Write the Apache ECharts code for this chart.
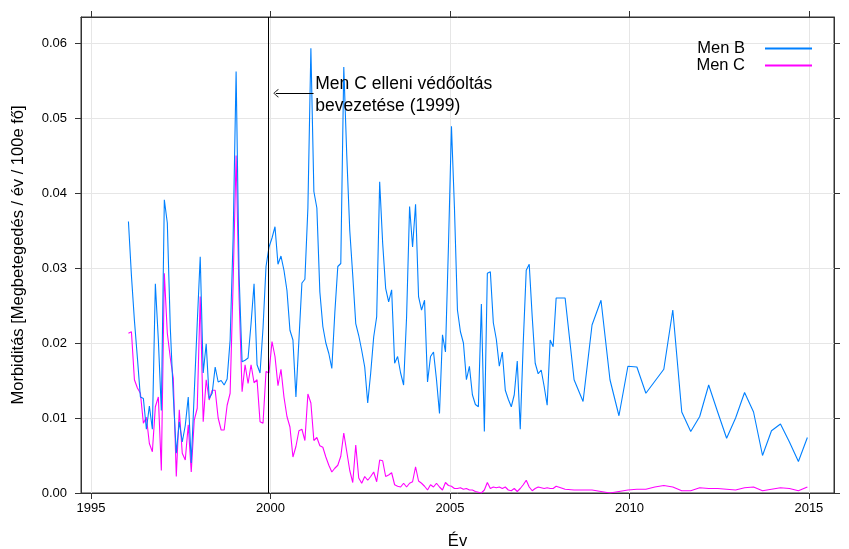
<!DOCTYPE html>
<html>
<head>
<meta charset="utf-8">
<script src="https://cdn.jsdelivr.net/npm/echarts@6/dist/echarts.min.js"></script>
<style>
  html, body { margin: 0; padding: 0; background: #fff; }
  #chart { width: 849px; height: 549px; }
</style>
</head>
<body>
<div id="chart"></div>
<script>
// monthly values, Jan 1996 .. Dec 2007 (one row per year)
const menBMonthly = [
  0.0362, 0.029, 0.023, 0.018, 0.0128, 0.0126, 0.0085, 0.0116, 0.0085, 0.0279, 0.0204, 0.011,
  0.0391, 0.036, 0.022, 0.013, 0.0053, 0.0095, 0.0068, 0.009, 0.0128, 0.004, 0.0133, 0.0226,
  0.0315, 0.016, 0.0199, 0.0126, 0.0133, 0.0168, 0.0148, 0.015, 0.0144, 0.0152, 0.0204, 0.034,
  0.0562, 0.029, 0.0175, 0.0177, 0.018, 0.0226, 0.0279, 0.0171, 0.016, 0.022, 0.0302, 0.0328,
  0.034, 0.0355, 0.0305, 0.0316, 0.0297, 0.027, 0.0217, 0.0204, 0.0128, 0.0204, 0.028, 0.0285,
  0.038, 0.0593, 0.0402, 0.038, 0.0268, 0.0222, 0.020, 0.0186, 0.0166, 0.024, 0.0302, 0.0306,
  0.0568, 0.045, 0.035, 0.029, 0.0226, 0.021, 0.019, 0.0168, 0.012, 0.016, 0.0208, 0.0235,
  0.0415, 0.0333, 0.0273, 0.0255, 0.0271, 0.0173, 0.0182, 0.016, 0.0144, 0.0235, 0.0382, 0.0328,
  0.0385, 0.0262, 0.0244, 0.0257, 0.0148, 0.0182, 0.0188, 0.0151, 0.0106, 0.0211, 0.0188, 0.033,
  0.0489, 0.038, 0.0244, 0.0215, 0.020, 0.0151, 0.0169, 0.0131, 0.0118, 0.0115, 0.0252, 0.0082,
  0.0293, 0.0295, 0.0227, 0.0205, 0.0169, 0.0188, 0.0137, 0.0125, 0.0115, 0.0131, 0.0176, 0.0085,
  0.020, 0.0297, 0.0305, 0.0235, 0.0173, 0.0159, 0.0164, 0.0142, 0.0117, 0.0204, 0.0195, 0.026
];
const menCMonthly = [
  0.0213, 0.0215, 0.0151, 0.014, 0.0133, 0.0093, 0.0101, 0.0066, 0.0055, 0.0115, 0.0128, 0.003,
  0.0293, 0.0213, 0.018, 0.0153, 0.0022, 0.0111, 0.0053, 0.0044, 0.0091, 0.0028, 0.0097, 0.0113,
  0.0262, 0.0095, 0.0151, 0.0124, 0.0137, 0.0137, 0.010, 0.0084, 0.0084, 0.0117, 0.0133, 0.028,
  0.045, 0.026, 0.0135, 0.0171, 0.0146, 0.0171, 0.0147, 0.0151, 0.0095, 0.0093, 0.0162, 0.016,
  0.0202, 0.0182, 0.0143, 0.0165, 0.0128, 0.0102, 0.0088, 0.0048, 0.0062, 0.0083, 0.0085, 0.007,
  0.0132, 0.012, 0.007, 0.0074, 0.0063, 0.0061, 0.0048, 0.0037, 0.0028, 0.0033, 0.0037, 0.0049,
  0.008, 0.0055, 0.003, 0.0014, 0.0064, 0.002, 0.0013, 0.0022, 0.0017, 0.0022, 0.0028, 0.0015,
  0.0044, 0.0043, 0.0022, 0.0024, 0.0027, 0.0011, 0.0009, 0.0008, 0.0013, 0.0008, 0.0013, 0.0015,
  0.0035, 0.0016, 0.0013, 0.0009, 0.0004, 0.0011, 0.0008, 0.0013, 0.0008, 0.0004, 0.0014, 0.001,
  0.0009, 0.0006, 0.0006, 0.0007, 0.0005, 0.0006, 0.0004, 0.0004, 0.0002, 0.0001, 0.0, 0.0004,
  0.0014, 0.0006, 0.0008, 0.0007, 0.0008, 0.0006, 0.0008, 0.0004, 0.0003, 0.0006, 0.0002, 0.0006,
  0.0011, 0.0017, 0.0008, 0.0003, 0.0006, 0.0008, 0.0007, 0.0006, 0.0007, 0.0006, 0.0006, 0.0009
];
// quarterly values, Mar 2008 .. Dec 2014
const menBQuarterly = [
  0.026, 0.0151, 0.0122, 0.0224,
  0.0257, 0.0151, 0.0103, 0.0169,
  0.0168, 0.0133, 0.0149, 0.0165,
  0.0244, 0.0108, 0.0082, 0.0102,
  0.0144, 0.0108, 0.0073, 0.010,
  0.0134, 0.0108, 0.005, 0.0083,
  0.0092, 0.0068, 0.0042, 0.0074
];
const menCQuarterly = [
  0.0005, 0.0004, 0.0004, 0.0004,
  0.0002, 0.0, 0.0002, 0.0004,
  0.0005, 0.0005, 0.0008, 0.001,
  0.0008, 0.0003, 0.0003, 0.0007,
  0.0006, 0.0006, 0.0005, 0.0004,
  0.0007, 0.0008, 0.0003, 0.0005,
  0.0007, 0.0006, 0.0003, 0.0008
];
const seriesNames = ["Men B", "Men C"];
const xTicks = [1995, 2000, 2005, 2010, 2015];
const yTicks = [0, 0.01, 0.02, 0.03, 0.04, 0.05, 0.06];
const vaccineYear = 1999.93;
const noteText = "Men C elleni védőoltás\nbevezetése (1999)";

// month mid-points as decimal years
function monthly(values, startYear) {
  return values.map((v, i) => [startYear + (i + 0.5) / 12, v]);
}
function quarterly(values, startYear) {
  return values.map((v, i) => [startYear + (3 * i + 2.5) / 12, v]);
}
const menB = monthly(menBMonthly, 1996).concat(quarterly(menBQuarterly, 2008));
const menC = monthly(menCMonthly, 1996).concat(quarterly(menCQuarterly, 2008));

const axisColor = "#333";
const gridColor = "#e6e6e6";
const xMin = 1994.72, xMax = 2015.7;
const yMin = 0, yMax = 0.06347;

const myChart = echarts.init(document.getElementById("chart"));
myChart.setOption({
  animation: false,
  textStyle: { fontFamily: "Liberation Sans, Arial, sans-serif", color: "#000" },
  grid: {
    left: 81, right: 15, top: 17, bottom: 56,
    outerBoundsMode: "none",
    show: true, borderColor: axisColor, borderWidth: 1
  },
  legend: {
    data: seriesNames,
    orient: "vertical",
    align: "right",
    right: 36,
    top: 40,
    padding: 0,
    itemWidth: 47,
    itemHeight: 17,
    itemGap: 0,
    itemStyle: { opacity: 0 },
    textStyle: { fontSize: 16.5, lineHeight: 17, color: "#000", padding: [0, 15, 0, 0] }
  },
  xAxis: [
    {
      type: "value", min: xMin, max: xMax, position: "bottom",
      name: "Év", nameLocation: "middle", nameGap: 40,
      nameTextStyle: { fontSize: 16.5, color: "#000" },
      axisLine: { show: true, onZero: false, lineStyle: { color: axisColor } },
      axisTick: { show: true, customValues: xTicks, length: 6, lineStyle: { color: axisColor } },
      axisLabel: { customValues: xTicks, formatter: v => String(v), fontSize: 13, color: "#000", margin: 9 },
      splitLine: { show: true, lineStyle: { color: gridColor, width: 1 } }
    },
    {
      type: "value", min: xMin, max: xMax, position: "top",
      axisLine: { show: true, onZero: false, lineStyle: { color: axisColor } },
      axisTick: { show: true, customValues: xTicks, length: 6, lineStyle: { color: axisColor } },
      axisLabel: { show: false },
      splitLine: { show: false }
    }
  ],
  yAxis: [
    {
      type: "value", min: yMin, max: yMax, position: "left",
      name: "Morbiditás [Megbetegedés / év / 100e fő]", nameLocation: "middle", nameGap: 54, nameRotate: 90,
      nameTextStyle: { fontSize: 16.5, color: "#000" },
      axisLine: { show: true, onZero: false, lineStyle: { color: axisColor } },
      axisTick: { show: true, customValues: yTicks, length: 6, lineStyle: { color: axisColor } },
      axisLabel: { customValues: yTicks, formatter: v => v.toFixed(2), fontSize: 13, color: "#000", margin: 14 },
      splitLine: { show: true, lineStyle: { color: gridColor, width: 1 } }
    },
    {
      type: "value", min: yMin, max: yMax, position: "right",
      axisLine: { show: true, onZero: false, lineStyle: { color: axisColor } },
      axisTick: { show: true, customValues: yTicks, length: 6, lineStyle: { color: axisColor } },
      axisLabel: { show: false },
      splitLine: { show: false }
    }
  ],
  series: [
    {
      name: seriesNames[0],
      type: "line",
      data: menB,
      symbol: "none",
      color: "#0080ff",
      lineStyle: { color: "#0080ff", width: 1.1 },
      z: 3,
      markLine: {
        silent: true,
        symbol: ["none", "none"],
        label: { show: false },
        lineStyle: { color: "#000", width: 1, type: "solid" },
        data: [
          { xAxis: vaccineYear },
          [
            { coord: [2001.2, 0.0533], symbol: "none" },
            { coord: [2000.15, 0.0533], symbol: "path://M5,0 L10,10 L9,10 L5,1.6 L1,10 L0,10 Z", symbolSize: [9, 5] }
          ]
        ]
      },
      markPoint: {
        silent: true,
        symbolSize: 0,
        data: [{ coord: [2001.22, 0.0533] }],
        label: {
          show: true, position: "right", distance: 1, offset: [0, 2],
          formatter: noteText, fontSize: 17.5, lineHeight: 22, color: "#000", align: "left"
        }
      }
    },
    {
      name: seriesNames[1],
      type: "line",
      data: menC,
      symbol: "none",
      color: "#ff00ff",
      lineStyle: { color: "#ff00ff", width: 1.1 },
      z: 2
    }
  ]
});
</script>
</body>
</html>
